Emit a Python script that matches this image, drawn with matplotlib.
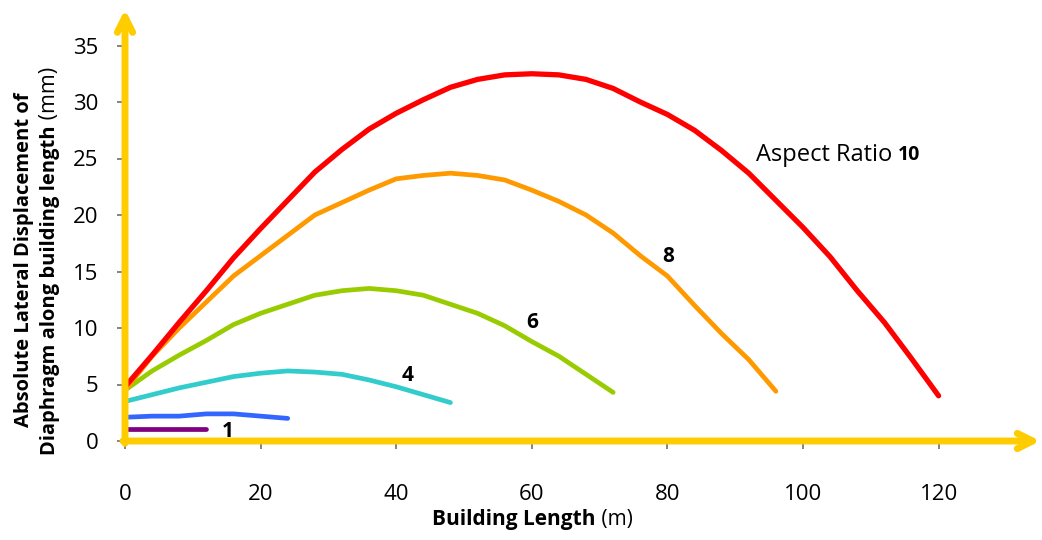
import matplotlib
matplotlib.use("Agg")
import matplotlib.pyplot as plt

plt.rcParams['font.family'] = ['Open Sans', 'DejaVu Sans']

# Data
x_ar10 = [0, 4, 8, 12, 16, 20, 24, 28, 32, 36, 40, 44, 48, 52, 56, 60, 64, 68, 72, 76, 80, 84, 88, 92, 96, 100, 104, 108, 112, 116, 120]
y_ar10 = [4.8, 7.6, 10.5, 13.3, 16.2, 18.8, 21.3, 23.8, 25.8, 27.6, 29.0, 30.2, 31.3, 32.0, 32.4, 32.5, 32.4, 32.0, 31.2, 30.0, 28.9, 27.5, 25.7, 23.7, 21.3, 18.9, 16.3, 13.3, 10.5, 7.3, 4.0]
x_ar8 = [0, 4, 8, 12, 16, 20, 24, 28, 32, 36, 40, 44, 48, 52, 56, 60, 64, 68, 72, 76, 80, 84, 88, 92, 96]
y_ar8 = [4.5, 7.5, 10.0, 12.3, 14.6, 16.4, 18.2, 20.0, 21.1, 22.2, 23.2, 23.5, 23.7, 23.5, 23.1, 22.2, 21.2, 20.0, 18.4, 16.4, 14.6, 12.0, 9.5, 7.2, 4.4]
x_ar6 = [0, 4, 8, 12, 16, 20, 24, 28, 32, 36, 40, 44, 48, 52, 56, 60, 64, 68, 72]
y_ar6 = [4.5, 6.2, 7.6, 8.9, 10.3, 11.3, 12.1, 12.9, 13.3, 13.5, 13.3, 12.9, 12.1, 11.3, 10.2, 8.8, 7.5, 5.9, 4.3]
x_ar4 = [0, 4, 8, 12, 16, 20, 24, 28, 32, 36, 40, 44, 48]
y_ar4 = [3.5, 4.1, 4.7, 5.2, 5.7, 6.0, 6.2, 6.1, 5.9, 5.4, 4.8, 4.1, 3.4]
x_ar2 = [0, 4, 8, 12, 16, 20, 24]
y_ar2 = [2.1, 2.2, 2.2, 2.4, 2.4, 2.2, 2.0]
x_ar1 = [0, 4, 8, 12]
y_ar1 = [1.1, 1.1, 1.1, 1.1]

x_ticks = [0, 20, 40, 60, 80, 100, 120]
y_ticks = [0, 5, 10, 15, 20, 25, 30, 35]

W, H = 1042, 540
fig = plt.figure(figsize=(W / 100, H / 100), dpi=100)
x0_px, y0_px = 125, 441
px_per_x, px_per_y = 6.78, 11.3
xmax, ymax = 135, 38.2
ax = fig.add_axes([x0_px / W, 1 - y0_px / H, xmax * px_per_x / W, ymax * px_per_y / H])
ax.set_xlim(0, xmax)
ax.set_ylim(0, ymax)
for s in ax.spines.values():
    s.set_visible(False)

series = [
    (x_ar1, y_ar1, '#800080', 3.4),
    (x_ar2, y_ar2, '#3366FF', 3.4),
    (x_ar4, y_ar4, '#33CCCC', 3.4),
    (x_ar6, y_ar6, '#99CC00', 3.4),
    (x_ar8, y_ar8, '#FF9900', 3.4),
    (x_ar10, y_ar10, '#FF0000', 3.8),
]
for xs, ys, c, lw in series:
    ax.plot(xs, ys, color=c, lw=lw, solid_capstyle='round', solid_joinstyle='round', zorder=3)

gold = '#FFCC00'
arrow = dict(arrowstyle='->,head_length=1.1,head_width=0.55', lw=5, color=gold,
             shrinkA=0, shrinkB=0, capstyle='round', joinstyle='round')
ax.annotate('', xy=(xmax, 0), xytext=(-0.3, 0), arrowprops=arrow, annotation_clip=False, zorder=5)
ax.annotate('', xy=(0, ymax), xytext=(0, -0.2), arrowprops=arrow, annotation_clip=False, zorder=5)

ax.set_xticks(x_ticks)
ax.set_yticks(y_ticks)
ax.tick_params(axis='both', direction='out', color='#707070', width=1.2, length=6, labelsize=16)
ax.tick_params(axis='x', pad=25)
ax.tick_params(axis='y', pad=13)

# Series labels
ax.text(15.2, 0.8, '1', fontsize=15, fontweight='bold', ha='center', va='center')
ax.text(41.7, 5.8, '4', fontsize=15, fontweight='bold', ha='center', va='center')
ax.text(60.0, 10.5, '6', fontsize=15, fontweight='bold', ha='center', va='center')
ax.text(80.1, 16.3, '8', fontsize=15, fontweight='bold', ha='center', va='center')
t_ar = ax.text(93.0, 25.3, 'Aspect Ratio ', fontsize=17, ha='left', va='center')

# Axis labels (mixed bold/regular)
xl1 = fig.text(432 / W, 15 / H, 'Building Length', fontsize=15, fontweight='bold', ha='left', va='baseline')
xl2 = fig.text(0, 15 / H, ' (m)', fontsize=15, ha='left', va='baseline')
yl1 = fig.text(29 / W, (H - 427) / H, 'Absolute Lateral Displacement of', fontsize=14.5, fontweight='bold',
               rotation=90, rotation_mode='anchor', ha='left', va='baseline')
yl2 = fig.text(55 / W, (H - 455) / H, 'Diaphragm along building length', fontsize=14.5, fontweight='bold',
               rotation=90, rotation_mode='anchor', ha='left', va='baseline')
yl3 = fig.text(55 / W, 0, ' (mm)', fontsize=15.5,
               rotation=90, rotation_mode='anchor', ha='left', va='baseline')

fig.canvas.draw()
r = fig.canvas.get_renderer()
bb1 = xl1.get_window_extent(r)
xl2.set_x(bb1.x1 / W)
bb2 = yl2.get_window_extent(r)
yl3.set_y(bb2.y1 / H)
# "10" after "Aspect Ratio "
bb = t_ar.get_window_extent(r)
inv = ax.transData.inverted()
xe, _ = inv.transform((bb.x1, bb.y0))
ax.text(xe, 25.3, '10', fontsize=14, fontweight='bold', ha='left', va='center')

fig.savefig('out.png', dpi=100)
